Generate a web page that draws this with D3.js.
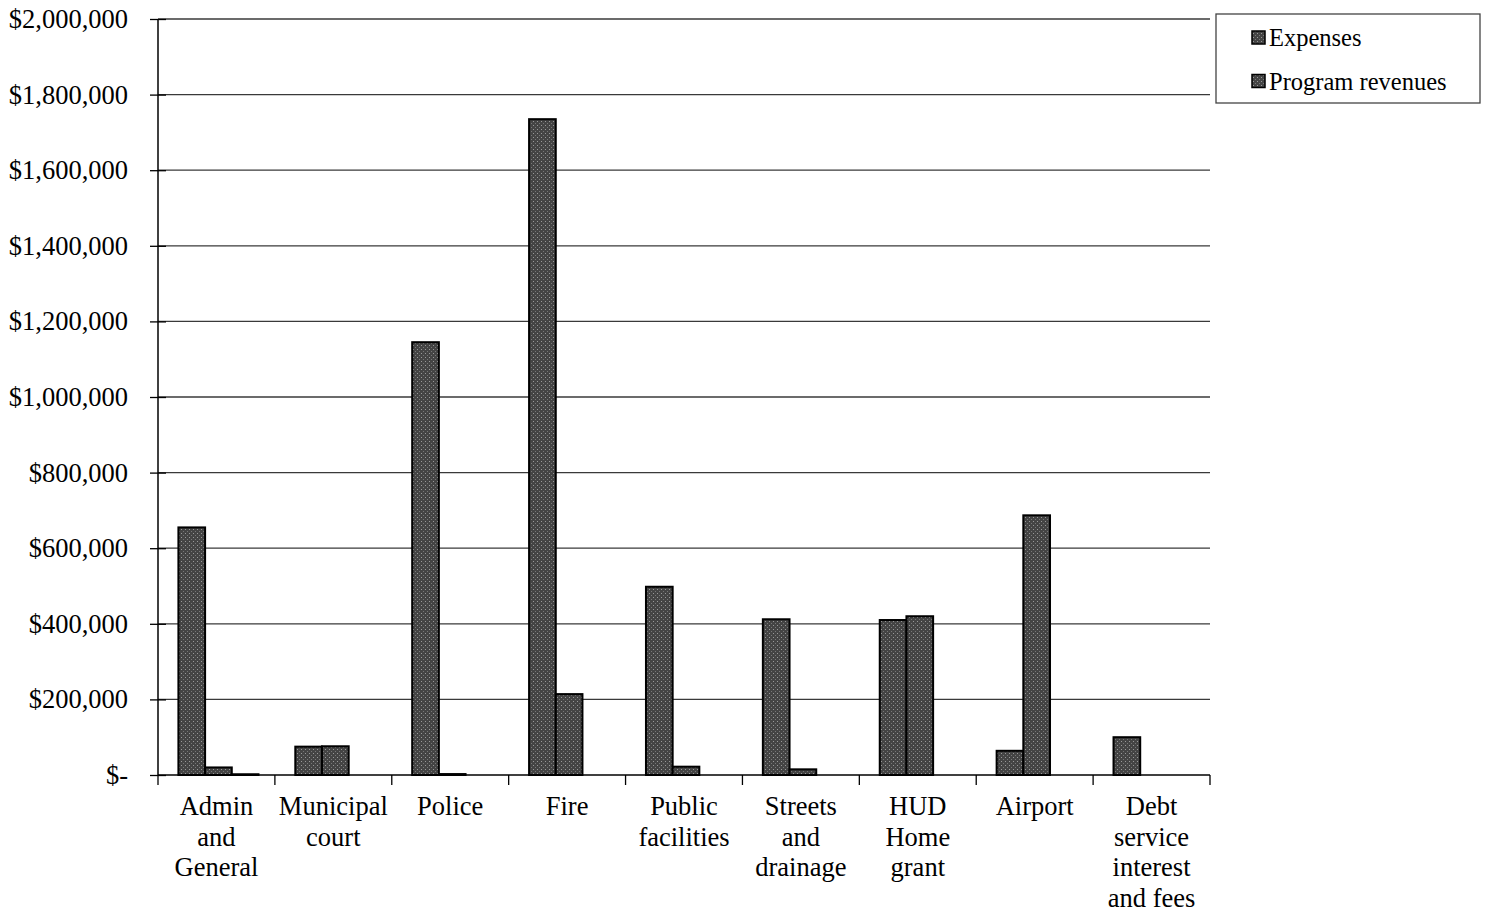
<!DOCTYPE html>
<html><head><meta charset="utf-8">
<script src="https://cdn.jsdelivr.net/npm/d3@7"></script>
<style>
body{margin:0;background:#fff;}
text{font-family:"Liberation Serif","Times New Roman",serif;fill:#000;}
</style></head>
<body><svg id="c" width="1487" height="913"></svg>
<script>
const categories = ["Admin and General","Municipal court","Police","Fire","Public facilities","Streets and drainage","HUD Home grant","Airport","Debt service interest and fees"];
const tickLabels = [["Admin","and","General"],["Municipal","court"],["Police"],["Fire"],["Public","facilities"],["Streets","and","drainage"],["HUD","Home","grant"],["Airport"],["Debt","service","interest","and fees"]];
const expenses = [655000, 75000, 1145000, 1735000, 498000, 412000, 410000, 64000, 100000];
const programRevenues = [20000, 76000, 2500, 214000, 22000, 15000, 420000, 687000, 0];
const otherRevenues = [2000, 0, 0, 0, 0, 0, 0, 0, 0];
const seriesNames = ["Expenses","Program revenues"];
const yTicks = [0,200000,400000,600000,800000,1000000,1200000,1400000,1600000,1800000,2000000];

const svg = d3.select("#c");
const L=158, R=1210, T=19, B=775;
const x = d3.scaleBand().domain(categories).range([L,R]).paddingInner(0).paddingOuter(0);
const x1 = d3.scaleBand().domain([0,1,2]).range([2,x.bandwidth()+2]).paddingInner(0).paddingOuter(0.69);
const y = d3.scaleLinear().domain([0,2000000]).range([B,T]);

const defs = svg.append("defs");
const pat = defs.append("pattern").attr("id","tex").attr("width",4).attr("height",4).attr("patternUnits","userSpaceOnUse");
pat.append("rect").attr("width",4).attr("height",4).attr("fill","#444");
pat.append("rect").attr("x",1).attr("y",1).attr("width",1).attr("height",1).attr("fill","#999");
pat.append("rect").attr("x",3).attr("y",3).attr("width",1).attr("height",1).attr("fill","#777");

// gridlines
svg.append("g").selectAll("line").data(yTicks.filter(d=>d>0)).join("line")
  .attr("x1",L).attr("x2",R).attr("y1",d=>y(d)).attr("y2",d=>y(d))
  .attr("stroke","#3a3a3a").attr("stroke-width",1.3);

// y axis
const yAxis = d3.axisLeft(y).tickValues(yTicks).tickSize(8).tickPadding(22)
  .tickFormat(d=> d===0 ? "$-" : "$"+d3.format(",")(d));
const gy = svg.append("g").attr("transform",`translate(${L},0)`).call(yAxis);
gy.select(".domain").attr("stroke","#000").attr("stroke-width",1.5).attr("d",`M0,${T}V${B}`);
gy.selectAll(".tick line").attr("x1",8).attr("x2",-8).attr("stroke","#000").attr("stroke-width",1.3);
gy.selectAll(".tick text").attr("font-family","Liberation Serif, serif").attr("font-size",26.5).attr("fill","#000");

// bars
const series = [expenses, programRevenues, otherRevenues];
const g = svg.append("g");
series.forEach((vals,si)=>{
  g.selectAll(".s"+si).data(categories).join("rect")
    .attr("x",(c)=>x(c)+x1(si))
    .attr("width",x1.bandwidth())
    .attr("y",(c,i)=>y(vals[i]))
    .attr("height",(c,i)=>B-y(vals[i]))
    .attr("fill","url(#tex)")
    .attr("stroke",(c,i)=>vals[i]>0?"#000":"none").attr("stroke-width",2);
});

// x axis
const gx = svg.append("g").attr("transform",`translate(0,${B})`);
gx.append("line").attr("x1",L).attr("x2",R).attr("stroke","#000").attr("stroke-width",1.5);
const bounds = categories.map(c=>x(c)).concat([R]);
gx.selectAll(".tk").data(bounds).join("line").attr("x1",d=>d).attr("x2",d=>d).attr("y1",0).attr("y2",10).attr("stroke","#000").attr("stroke-width",1.3);
categories.forEach((c,i)=>{
  const t = gx.append("text").attr("x",x(c)+x.bandwidth()/2).attr("y",40)
    .attr("text-anchor","middle").attr("font-size",26.5);
  tickLabels[i].forEach((ln,j)=>t.append("tspan").attr("x",x(c)+x.bandwidth()/2).attr("dy",j===0?0:30.5).text(ln));
});

// legend
const lg = svg.append("g");
lg.append("rect").attr("x",1216).attr("y",14).attr("width",264).attr("height",89).attr("fill","#fff").attr("stroke","#444").attr("stroke-width",1.3);
seriesNames.forEach((n,i)=>{
  const yy = 38 + i*43.5;
  lg.append("rect").attr("x",1252).attr("y",yy-7).attr("width",13).attr("height",13).attr("fill","url(#tex)").attr("stroke","#000").attr("stroke-width",1.5);
  lg.append("text").attr("x",1269).attr("y",yy+8).attr("font-size",24.5).text(n);
});
</script></body></html>
